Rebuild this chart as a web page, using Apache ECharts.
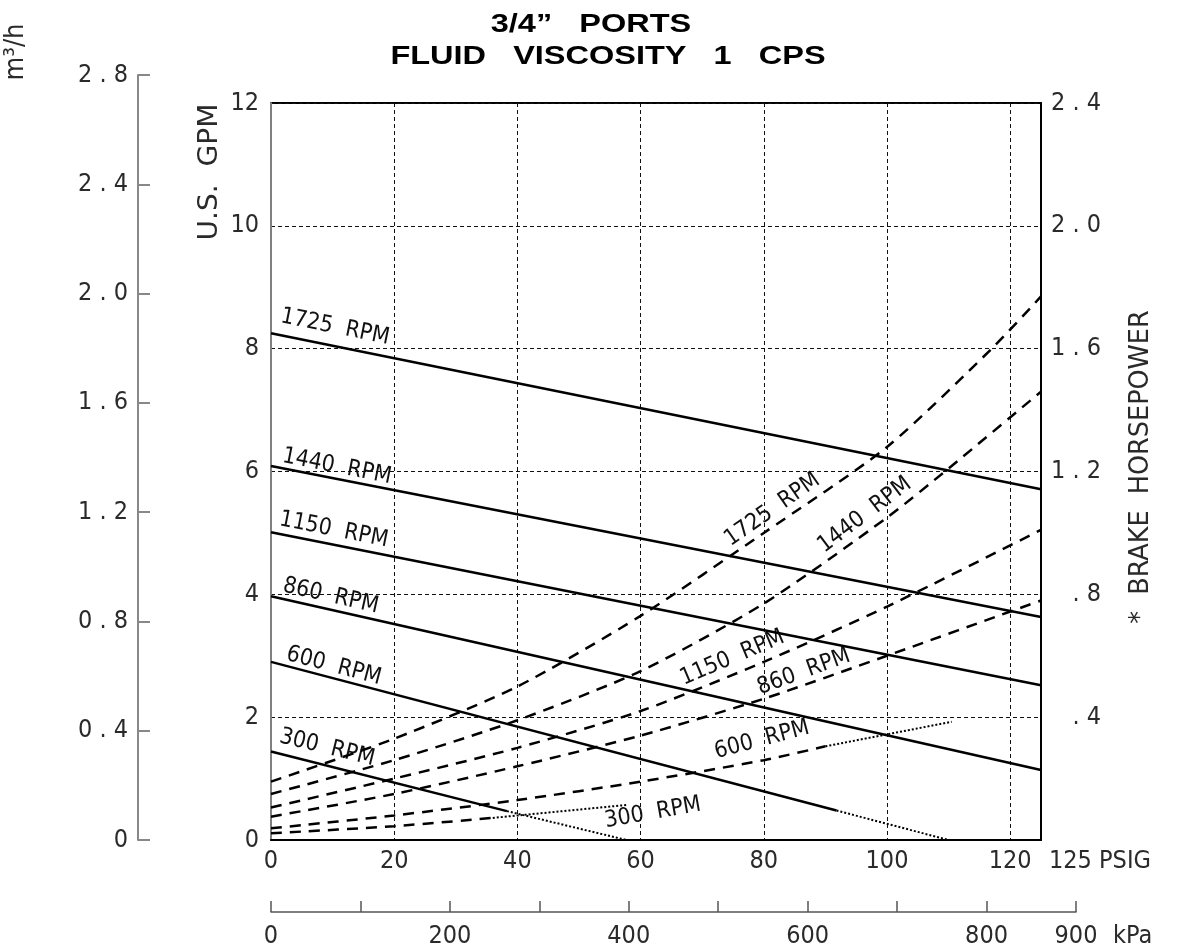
<!DOCTYPE html>
<html><head><meta charset="utf-8">
<script src="https://cdn.jsdelivr.net/npm/echarts@6/dist/echarts.min.js"></script>
<style>html,body{margin:0;padding:0;background:#fff}#c{width:1184px;height:951px}</style>
</head><body><div id="c"></div>
<script>
// ---- data ----
const rpmNames = ['1725  RPM', '1440  RPM', '1150  RPM', '860  RPM', '600  RPM', '300  RPM'];
// capacity, U.S. GPM vs PSIG (solid / dotted continuation)
const cap1725 = [[0, 8.25], [125, 5.71]];
const cap1440 = [[0, 6.09], [125, 3.63]];
const cap1150 = [[0, 5.01], [125, 2.52]];
const cap860  = [[0, 3.97], [125, 1.14]];
const cap600  = [[0, 2.90], [91.8, 0.48]];
const cap600Dot = [[91.8, 0.48], [110, 0]];
const cap300  = [[0, 1.44], [38.3, 0.47]];
const cap300Dot = [[38.3, 0.47], [57.7, 0]];
// brake horsepower vs PSIG (dashed / dotted continuation)
const bhp1725 = [[0, 0.19], [20, 0.33], [40, 0.50], [60, 0.73], [80, 1.00], [100, 1.28], [117, 1.60], [125, 1.77]];
const bhp1440 = [[0, 0.15], [20, 0.26], [40, 0.39], [60, 0.55], [80, 0.77], [100, 1.05], [110, 1.21], [125, 1.46]];
const bhp1150 = [[0, 0.106], [20, 0.20], [40, 0.30], [60, 0.42], [80, 0.58], [100, 0.76], [125, 1.01]];
const bhp860  = [[0, 0.076], [20, 0.15], [40, 0.24], [60, 0.34], [80, 0.46], [100, 0.60], [125, 0.78]];
const bhp600  = [[0, 0.038], [20, 0.08], [40, 0.13], [60, 0.19], [80, 0.26], [90, 0.305]];
const bhp600Dot = [[90, 0.305], [110.5, 0.385]];
const bhp300  = [[0, 0.022], [20, 0.045], [36, 0.072]];
const bhp300Dot = [[36, 0.072], [57.7, 0.114]];
// axis ranges / ticks
const psiRange = [0, 125, 20];
const gpmRange = [0, 12, 2];
const bhpRange = [0, 2.4, 0.4];
const m3hRange = [0, 2.8, 0.4];
const kpaRange = [0, 900, 100];
const kpaLabelled = [0, 200, 400, 600, 800, 900];
const titleLines = ['3/4\u201D   PORTS', 'FLUID   VISCOSITY   1   CPS'];

// ---- styles ----
const THIN = "'DejaVu Sans Condensed', 'Liberation Sans Narrow', Roboto, sans-serif";
const TXT = '#2a2a2a';
const spaced = s => String(s).split('').join(' ');

function capLabel(name, coord, rot) {
  return { symbol: 'circle', symbolSize: 0, silent: true,
    data: [{ coord: coord, value: name }],
    label: { show: true, position: 'inside', formatter: name, rotate: rot,
      fontFamily: THIN, fontSize: 23, color: '#111' } };
}
function solid(name, data, label) {
  return { type: 'line', name: name, data: data, xAxisIndex: 0, yAxisIndex: 0, symbol: 'none',
    lineStyle: { color: '#000', width: 2.5 }, markPoint: label, z: 5, animation: false };
}
function dashed(name, data, label) {
  return { type: 'line', name: name, data: data, xAxisIndex: 0, yAxisIndex: 1, symbol: 'none',
    smooth: 0.25,
    lineStyle: { color: '#000', width: 2.5, type: [11, 8] }, markPoint: label, z: 5, animation: false };
}
function dotted(name, data, yIdx) {
  return { type: 'line', name: name, data: data, xAxisIndex: 0, yAxisIndex: yIdx, symbol: 'none',
    lineStyle: { color: '#000', width: 2, type: [2, 2] }, z: 5, animation: false };
}
function txt(text, x, y, size, opts) {
  return Object.assign({ type: 'text', x: x, y: y,
    style: { text: text, fontFamily: THIN, fontSize: size, fill: TXT, align: 'center', verticalAlign: 'middle' } }, opts || {});
}

const option = {
  backgroundColor: '#fff',
  animation: false,
  grid: [
    { left: 271, right: 143, top: 103, bottom: 111, show: true, borderColor: '#000', borderWidth: 2, backgroundColor: 'transparent' },
    { left: 138, width: 1, top: 75, bottom: 111 },
    { left: 271, width: 805, top: 898, height: 14 }
  ],
  xAxis: [
    { gridIndex: 0, type: 'value', min: psiRange[0], max: psiRange[1], interval: psiRange[2],
      axisLine: { show: true, onZero: false, lineStyle: { color: '#000', width: 2 } },
      axisTick: { show: false },
      axisLabel: { margin: 9, fontFamily: THIN, fontSize: 25, color: TXT,
        formatter: v => (v > 120 ? '' : String(v)) },
      splitLine: { show: true, lineStyle: { color: '#111', width: 1, type: [4, 3] } } },
    { gridIndex: 1, type: 'value', show: false, min: 0, max: 1 },
    { gridIndex: 2, type: 'value', min: kpaRange[0], max: kpaRange[1], interval: kpaRange[2], position: 'bottom',
      axisLine: { show: true, onZero: false, lineStyle: { color: '#555', width: 1.5 } },
      axisTick: { show: true, inside: true, length: 11, lineStyle: { color: '#555', width: 1.5 } },
      axisLabel: { margin: 12, fontFamily: THIN, fontSize: 25, color: TXT,
        formatter: v => (kpaLabelled.indexOf(v) >= 0 ? String(v) : '') },
      splitLine: { show: false } }
  ],
  yAxis: [
    { gridIndex: 0, type: 'value', min: gpmRange[0], max: gpmRange[1], interval: gpmRange[2], position: 'left',
      axisLine: { show: true, onZero: false, lineStyle: { color: '#808080', width: 2 } },
      axisTick: { show: false },
      axisLabel: { margin: 12, fontFamily: THIN, fontSize: 25, color: TXT },
      splitLine: { show: true, lineStyle: { color: '#111', width: 1, type: [4, 3] } } },
    { gridIndex: 0, type: 'value', min: bhpRange[0], max: bhpRange[1], interval: bhpRange[2], position: 'right',
      axisLine: { show: true, onZero: false, lineStyle: { color: '#000', width: 2 } },
      axisTick: { show: false },
      axisLabel: { margin: 60, align: 'right', fontFamily: THIN, fontSize: 25, color: TXT,
        formatter: v => (v === 0 ? '' : spaced(v < 1 ? '.' + Math.round(v * 10) : v.toFixed(1))) },
      splitLine: { show: false } },
    { gridIndex: 1, type: 'value', min: m3hRange[0], max: m3hRange[1], interval: m3hRange[2], position: 'left',
      axisLine: { show: true, lineStyle: { color: '#888', width: 2 } },
      axisTick: { show: true, inside: true, length: 12, lineStyle: { color: '#888', width: 2 } },
      axisLabel: { margin: 10, fontFamily: THIN, fontSize: 25, color: TXT,
        formatter: v => (v === 0 ? '0' : spaced(v.toFixed(1))) },
      splitLine: { show: false } },
    { gridIndex: 2, type: 'value', show: false }
  ],
  graphic: [
    { type: 'text', x: 591, y: 25, scaleX: 1.25, style: { text: titleLines[0], fontFamily: 'Liberation Sans, Arial, sans-serif', fontWeight: 'bold', fontSize: 26, fill: '#000', align: 'center', verticalAlign: 'middle' } },
    { type: 'text', x: 608, y: 57, scaleX: 1.25, style: { text: titleLines[1], fontFamily: 'Liberation Sans, Arial, sans-serif', fontWeight: 'bold', fontSize: 26, fill: '#000', align: 'center', verticalAlign: 'middle' } },
    txt('U.S.  GPM', 210, 172, 26, { rotation: Math.PI / 2, scaleX: 1.2 }),
    txt('m\u00B3/h', 16, 52, 27, { rotation: Math.PI / 2 }),
    txt('*  BRAKE  HORSEPOWER', 1141, 467, 27, { rotation: Math.PI / 2, scaleX: 1.05 }),
    txt('125 PSIG', 1049, 861, 25, { style: { text: '125 PSIG', fontFamily: THIN, fontSize: 25, fill: TXT, align: 'left', verticalAlign: 'middle' } }),
    txt('kPa', 1113, 936, 25, { style: { text: 'kPa', fontFamily: THIN, fontSize: 25, fill: TXT, align: 'left', verticalAlign: 'middle' } })
  ],
  series: [
    solid(rpmNames[0], cap1725, capLabel(rpmNames[0], [10.4, 8.35], -11.4)),
    solid(rpmNames[1], cap1440, capLabel(rpmNames[1], [10.7, 6.08], -11.1)),
    solid(rpmNames[2], cap1150, capLabel(rpmNames[2], [10.2, 5.05], -11.2)),
    solid(rpmNames[3], cap860,  capLabel(rpmNames[3], [9.7, 3.97], -12.7)),
    solid(rpmNames[4], cap600,  capLabel(rpmNames[4], [10.2, 2.83], -14.7)),
    dotted(rpmNames[4] + ' cont.', cap600Dot, 0),
    solid(rpmNames[5], cap300,  capLabel(rpmNames[5], [9.1, 1.50], -13.9)),
    dotted(rpmNames[5] + ' cont.', cap300Dot, 0),
    dashed(rpmNames[0] + ' BHP', bhp1725, capLabel(rpmNames[0], [81.4, 1.075], 35)),
    dashed(rpmNames[1] + ' BHP', bhp1440, capLabel(rpmNames[1], [96.4, 1.058], 37)),
    dashed(rpmNames[2] + ' BHP', bhp1150, capLabel(rpmNames[2], [74.9, 0.593], 23)),
    dashed(rpmNames[3] + ' BHP', bhp860,  capLabel(rpmNames[3], [86.5, 0.547], 20)),
    dashed(rpmNames[4] + ' BHP', bhp600,  capLabel(rpmNames[4], [79.7, 0.326], 15)),
    dotted(rpmNames[4] + ' BHP cont.', bhp600Dot, 1),
    dashed(rpmNames[5] + ' BHP', bhp300,  capLabel(rpmNames[5], [62, 0.088], 10)),
    dotted(rpmNames[5] + ' BHP cont.', bhp300Dot, 1)
  ]
};
const chart = echarts.init(document.getElementById('c'), null, { renderer: 'canvas' });
chart.setOption(option);
</script>
</body></html>
